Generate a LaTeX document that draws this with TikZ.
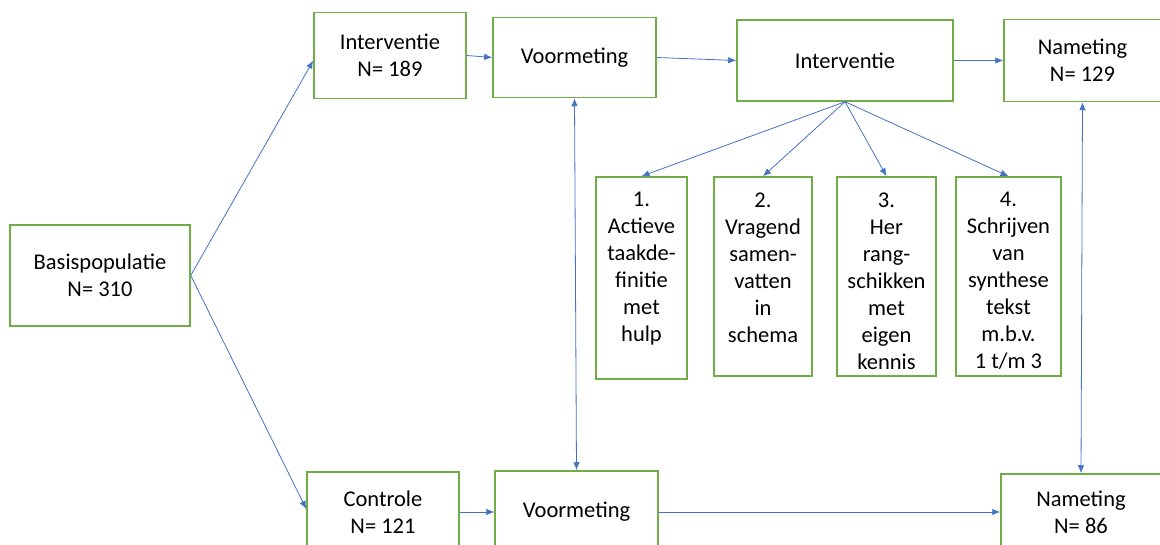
\documentclass[tikz,border=0pt]{standalone}
\usepackage{fontspec}
\setmainfont{Carlito}
\usetikzlibrary{arrows.meta}
\definecolor{boxgreen}{HTML}{70AD47}
\definecolor{linkblue}{HTML}{4472C4}
\begin{document}
\begin{tikzpicture}[x=1pt,y=-1pt,
  box/.style={draw=boxgreen, line width=1.5pt, fill=white, inner sep=0pt,
    align=center, font=\fontsize{22.5}{27}\selectfont},
  txt/.style={inner sep=0pt, align=center, anchor=north,
    font=\fontsize{22.5}{27}\selectfont},
  link/.style={draw=linkblue, line width=0.8pt,
    -{Latex[length=8pt,width=6.5pt]}},
  twoway/.style={draw=linkblue, line width=0.8pt,
    {Latex[length=8pt,width=6.5pt]}-{Latex[length=8pt,width=6.5pt]}}]
\useasboundingbox (0,0) rectangle (1160,545);

% main flow boxes
\node[box, minimum width=180pt, minimum height=101pt] (basis) at (100,275.5) {Basispopulatie\\N= 310};
\node[box, minimum width=152pt, minimum height=86pt] (int1) at (390,55.5) {Interventie\\N= 189};
\node[box, minimum width=163pt, minimum height=80pt] (voor1) at (574.5,57.5) {Voormeting};
\node[box, minimum width=216pt, minimum height=81pt] (int2) at (845,60.5) {Interventie};
\node[box, minimum width=157pt, minimum height=82pt] (nam1) at (1082.5,60.5) {Nameting\\N= 129};
\node[box, minimum width=152pt, minimum height=80pt] (ctrl) at (383,512) {Controle\\N= 121};
\node[box, minimum width=163pt, minimum height=82pt] (voor2) at (576.5,512) {Voormeting};
\node[box, minimum width=160pt, minimum height=76pt] (nam2) at (1081,512) {Nameting\\N= 86};

% intervention components
\node[box, minimum width=91pt, minimum height=202pt] (s1) at (641.5,278) {};
\node[box, minimum width=98pt, minimum height=199pt] (s2) at (763,276.5) {};
\node[box, minimum width=99pt, minimum height=199pt] (s3) at (886.5,276.5) {};
\node[box, minimum width=105pt, minimum height=199pt] (s4) at (1008.5,276.5) {};
\node[txt] (t1) at ([yshift=-16pt]s1.north) {1.\\Actieve\\taakde-\\finitie\\met\\hulp};
\node[txt] (t2) at ([yshift=-16pt]s2.north) {2.\\Vragend\\samen-\\vatten\\in\\schema};
\node[txt] (t3) at ([yshift=-16pt]s3.north) {3.\\Her\\rang-\\schikken\\met\\eigen\\kennis};
\node[txt] (t4) at ([yshift=-16pt]s4.north) {4.\\Schrijven\\van\\synthese\\tekst\\m.b.v.\\1 t/m 3};

% connectors
\draw[link] (basis.east) -- ([yshift=-5pt]int1.west);
\draw[link] (basis.east) -- ([yshift=3pt]ctrl.west);
\draw[link] (int1.east) -- (voor1.west);
\draw[link] (voor1.east) -- (int2.west);
\draw[link] (int2.east) -- (nam1.west);
\draw[link] (ctrl.east) -- (voor2.west);
\draw[link] (voor2.east) -- (nam2.west);
\draw[link] (int2.south) -- (s1.north);
\draw[link] (int2.south) -- (s2.north);
\draw[link] (int2.south) -- (s3.north);
\draw[link] (int2.south) -- (s4.north);
\draw[twoway] (voor1.south) -- (voor2.north);
\draw[twoway] (nam1.south) -- (nam2.north);
\end{tikzpicture}
\end{document}
